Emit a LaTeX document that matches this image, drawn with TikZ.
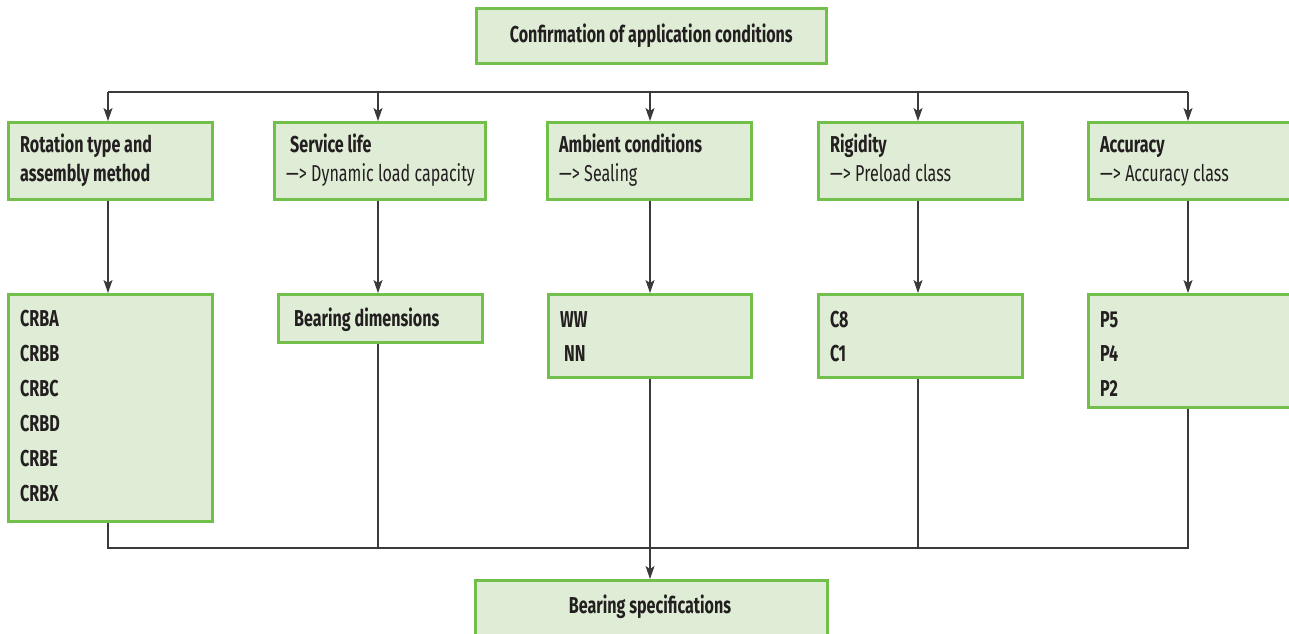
\documentclass[tikz,border=0pt]{standalone}
\usepackage{fontspec}
\setmainfont{Fira Sans}[FakeStretch=0.7]
\usetikzlibrary{arrows.meta}
\definecolor{boxfill}{HTML}{E0EDD6}
\definecolor{boxline}{HTML}{72C04B}
\definecolor{txt}{HTML}{231F20}
\definecolor{conn}{HTML}{3A3A3A}
\tikzset{
  box/.style={draw=boxline, fill=boxfill, line width=2.6pt, anchor=north west, inner sep=0pt},
  lbl/.style={anchor=north west, align=left, inner sep=0pt, text=txt, font=\fontsize{23}{29}\selectfont},
  lst/.style={anchor=north west, align=left, inner sep=0pt, text=txt, font=\fontsize{23}{34.5}\selectfont\bfseries},
  ctr/.style={anchor=center, inner sep=0pt, text=txt, font=\fontsize{23}{29}\selectfont\bfseries},
  con/.style={draw=conn, line width=1.1pt},
  arr/.style={con, -{Stealth[length=13pt,width=9pt,inset=3pt]}}
}
\newcommand{\hd}[1]{\strut\textbf{#1}}
\begin{document}
\begin{tikzpicture}[x=1pt,y=-1pt]
\useasboundingbox (0,0) rectangle (1289,633);
% top
\node[box, minimum width=350pt, minimum height=55pt] (top) at (475,7) {};
\node[ctr] (toptxt) at (top.center) {Confirmation of application conditions};
% row 1
\node[box, minimum width=204pt, minimum height=77pt] (a1) at (7,121) {};
\node[box, minimum width=211pt, minimum height=77pt] (b1) at (273,121) {};
\node[box, minimum width=204pt, minimum height=77pt] (c1) at (546,121) {};
\node[box, minimum width=204pt, minimum height=77pt] (d1) at (817,121) {};
\node[box, minimum width=210pt, minimum height=77pt] (e1) at (1087,121) {};
\node[lbl] (a1t) at (20,132) {\hd{Rotation type and}\\\textbf{assembly method}};
\node[lbl] (b1t) at (286,132) {\hspace{4pt}\hd{Service life}\\—> Dynamic load capacity};
\node[lbl] (c1t) at (559,132) {\hd{Ambient conditions}\\—> Sealing};
\node[lbl] (d1t) at (830,132) {\hd{Rigidity}\\—> Preload class};
\node[lbl] (e1t) at (1100,132) {\hd{Accuracy}\\—> Accuracy class};
% row 2
\node[box, minimum width=204pt, minimum height=227pt] (a2) at (7,293) {};
\node[box, minimum width=204pt, minimum height=48pt] (b2) at (277,293) {};
\node[box, minimum width=203pt, minimum height=83pt] (c2) at (547,293) {};
\node[box, minimum width=204pt, minimum height=83pt] (d2) at (817,293) {};
\node[box, minimum width=210pt, minimum height=113pt] (e2) at (1087,293) {};
\node[lst, font=\fontsize{23}{35}\selectfont\bfseries] (a2t) at (20,301.5) {\strut CRBA\\CRBB\\CRBC\\CRBD\\CRBE\\CRBX};
\node[lst] (b2t) at (294,302) {\strut Bearing dimensions};
\node[lst] (c2t) at (560,303) {\strut WW\\\hspace{4pt}NN};
\node[lst] (d2t) at (830,303) {\strut C8\\C1};
\node[lst] (e2t) at (1100,303) {\strut P5\\P4\\P2};
% bottom
\node[box, minimum width=352pt, minimum height=60pt] (bot) at (474,579) {};
\node[ctr] (bottxt) at (650,607) {Bearing specifications};
% connectors
\coordinate (hl) at (108,92);
\coordinate (hr) at (1188,92);
\coordinate (bl) at (108,548);
\coordinate (br) at (1188,548);
\draw[con] (hl) -- (hr);
\draw[arr] (hl) -- (a1.north -| hl);
\draw[arr] (378,92) -- (b1.north -| 378,0);
\draw[arr] (650,92) -- (c1.north -| 650,0);
\draw[arr] (918,92) -- (d1.north -| 918,0);
\draw[arr] (hr) -- (e1.north -| hr);
\draw[arr] (a1.south -| 108,0) -- (a2.north -| 108,0);
\draw[arr] (b1.south -| 378,0) -- (b2.north -| 378,0);
\draw[arr] (c1.south -| 650,0) -- (c2.north -| 650,0);
\draw[arr] (d1.south -| 918,0) -- (d2.north -| 918,0);
\draw[arr] (e1.south -| 1188,0) -- (e2.north -| 1188,0);
\draw[con] (a2.south -| bl) -- (bl) -- (br) -- (e2.south -| br);
\draw[con] (b2.south -| 378,0) -- (378,548);
\draw[con] (d2.south -| 918,0) -- (918,548);
\draw[arr] (c2.south -| 650,0) -- (bot.north -| 650,0);
\end{tikzpicture}
\end{document}
